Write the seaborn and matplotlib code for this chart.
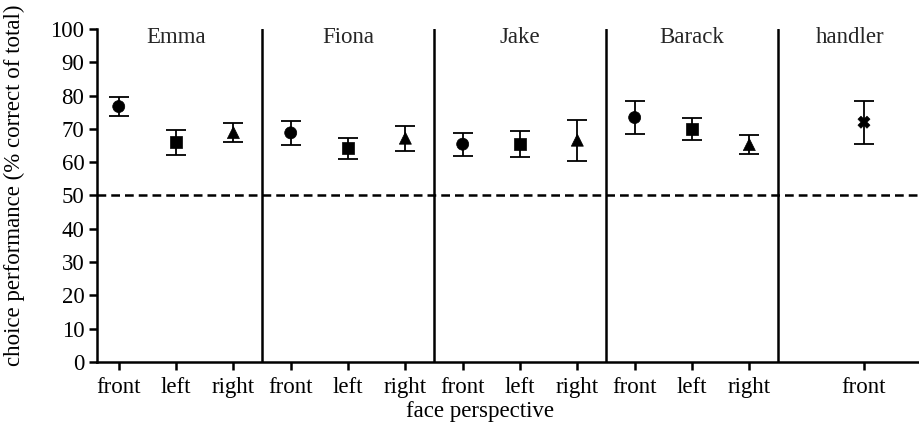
import numpy as np
import pandas as pd
import seaborn as sns
import matplotlib.pyplot as plt

# values
subjects = ["Emma", "Emma", "Emma", "Fiona", "Fiona", "Fiona",
            "Jake", "Jake", "Jake", "Barack", "Barack", "Barack", "handler"]
perspectives = ["front", "left", "right", "front", "left", "right",
                "front", "left", "right", "front", "left", "right", "front"]
means = [76.7, 66.0, 68.9, 68.8, 64.2, 67.2, 65.4, 65.6, 66.6, 73.4, 70.0, 65.3, 72.0]
errors = [2.8, 3.7, 2.9, 3.6, 3.2, 3.8, 3.5, 3.9, 6.1, 5.0, 3.3, 2.8, 6.4]
panels = ["Emma", "Fiona", "Jake", "Barack", "handler"]

# handler sits one slot further right in its own wider panel
xpos = list(range(12)) + [13]
kinds = ["circle", "square", "triangle"] * 4 + ["cross"]

df = pd.DataFrame({"subject": subjects, "perspective": perspectives,
                   "mean": means, "err": errors, "x": xpos, "kind": kinds})

sns.set_style("ticks")
plt.rcParams["font.family"] = ["Liberation Serif", "DejaVu Serif"]

fig = plt.figure(figsize=(9.19, 4.32), dpi=100)
ax = fig.add_axes([0.1055, 0.162, 0.8945, 0.771])

ax.errorbar(df["x"], df["mean"], yerr=df["err"], fmt="none", ecolor="black",
            elinewidth=1.3, capsize=7, capthick=1.3, zorder=2)
sns.scatterplot(data=df, x="x", y="mean", style="kind",
                markers={"circle": "o", "square": "s", "triangle": "^", "cross": "X"},
                color="black", s=75, edgecolor="black", linewidth=0.5,
                legend=False, ax=ax, zorder=3)

ax.axhline(50, color="black", lw=1.8, ls=(0, (3.5, 2)), zorder=1)
for b in [2.5, 5.5, 8.5, 11.5]:
    ax.axvline(b, color="black", lw=1.8, zorder=1)

# panel titles
centers = [1, 4, 7, 10, 12.75]
for c, name in zip(centers, panels):
    ax.text(c, 97.5, name, ha="center", va="center", fontsize=16.5)

ax.set_xlim(-0.38, 13.96)
ax.set_ylim(0, 100)
ax.set_yticks(range(0, 101, 10))
ax.set_xticks(df["x"])
ax.set_xticklabels(df["perspective"])
ax.tick_params(axis="both", labelsize=16.5, length=6, width=1.8, color="black",
               labelcolor="black", direction="out")
ax.tick_params(axis="x", pad=5)
ax.tick_params(axis="y", pad=3)
ax.set_xlabel("face perspective", fontsize=16.5, color="black")
ax.set_ylabel("choice performance (% correct of total)", fontsize=16.5, color="black")
ax.xaxis.set_label_coords(0.466, -0.118)
ax.yaxis.set_label_coords(-0.087, 0.53)

sns.despine(ax=ax)
for s in ["left", "bottom"]:
    ax.spines[s].set_linewidth(1.8)
    ax.spines[s].set_color("black")

fig.savefig("out.png", dpi=100, facecolor="white")
